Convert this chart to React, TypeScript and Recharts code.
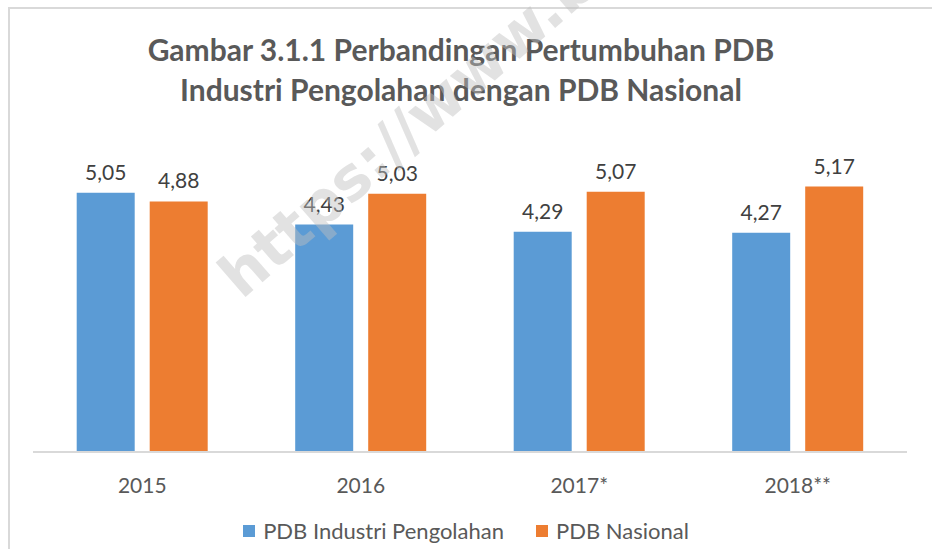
import React from "react";
import { BarChart, Bar, XAxis, YAxis, LabelList } from "recharts";

const years = ["2015", "2016", "2017*", "2018**"];
const industri = [5.05, 4.43, 4.29, 4.27];
const nasional = [4.88, 5.03, 5.07, 5.17];
const seriesNames = ["PDB Industri Pengolahan", "PDB Nasional"];

const data = years.map((year, i) => ({
  year,
  industri: industri[i],
  nasional: nasional[i],
}));

const FONT = "Lato, 'Open Sans', sans-serif";
const BLUE = "#5B9BD5";
const ORANGE = "#ED7D31";
const TEXT = "#595959";

const fmt = (v: unknown) => Number(v).toFixed(2).replace(".", ",");

export default function App() {
  const legendItems = [
    { name: seriesNames[0], color: BLUE },
    { name: seriesNames[1], color: ORANGE },
  ];
  return (
    <div
      style={{
        position: "absolute",
        left: 0,
        top: 0,
        width: 932,
        height: 549,
        background: "#fff",
        overflow: "hidden",
        fontFamily: FONT,
      }}
    >
      <div
        style={{
          position: "absolute",
          left: 8,
          top: 7,
          width: 940,
          height: 560,
          borderTop: "2px solid #d9d9d9",
          borderLeft: "2px solid #d9d9d9",
        }}
      />
      <div
        style={{
          position: "absolute",
          left: 0,
          top: 29,
          width: 922,
          textAlign: "center",
          fontWeight: 700,
          fontSize: 30,
          lineHeight: "40px",
          color: TEXT,
        }}
      >
        Gambar 3.1.1 Perbandingan Pertumbuhan PDB
        <br />
        Industri Pengolahan dengan PDB Nasional
      </div>
      <BarChart
        width={932}
        height={549}
        data={data}
        margin={{ top: 144, right: 25, left: 33, bottom: 67 }}
        barGap={15}
        barCategoryGap="20%"
        style={{ position: "absolute", left: 0, top: 0 }}
      >
        <XAxis
          dataKey="year"
          tickLine={false}
          axisLine={{ stroke: "#d9d9d9", strokeWidth: 2 }}
          tick={{ fill: TEXT, fontSize: 21, fontFamily: FONT }}
          dy={18}
        />
        <YAxis hide domain={[0, 6]} />
        <Bar
          dataKey="industri"
          name={seriesNames[0]}
          fill={BLUE}
          isAnimationActive={false}
        >
          <LabelList
            dataKey="industri"
            position="top"
            offset={13}
            formatter={fmt}
            style={{ fill: "#404040", fontSize: 21, fontFamily: FONT }}
          />
        </Bar>
        <Bar
          dataKey="nasional"
          name={seriesNames[1]}
          fill={ORANGE}
          isAnimationActive={false}
        >
          <LabelList
            dataKey="nasional"
            position="top"
            offset={13}
            formatter={fmt}
            style={{ fill: "#404040", fontSize: 21, fontFamily: FONT }}
          />
        </Bar>
      </BarChart>
      <div
        style={{
          position: "absolute",
          left: 0,
          top: 517,
          width: 932,
          display: "flex",
          justifyContent: "center",
          gap: 32,
          fontSize: 22,
          color: TEXT,
        }}
      >
        {legendItems.map((it) => (
          <div key={it.name} style={{ display: "flex", alignItems: "center" }}>
            <span
              style={{
                display: "inline-block",
                width: 12,
                height: 12,
                background: it.color,
                marginRight: 8,
              }}
            />
            {it.name}
          </div>
        ))}
      </div>
      <div
        style={{
          position: "absolute",
          left: 205,
          top: 258,
          transform: "rotate(-41deg)",
          transformOrigin: "0 0",
          fontFamily: "'DejaVu Sans', Arial, sans-serif",
          fontWeight: 700,
          fontSize: 60,
          color: "rgba(190,190,190,0.45)",
          whiteSpace: "nowrap",
          pointerEvents: "none",
        }}
      >
        https://www.bps.go.id
      </div>
    </div>
  );
}
